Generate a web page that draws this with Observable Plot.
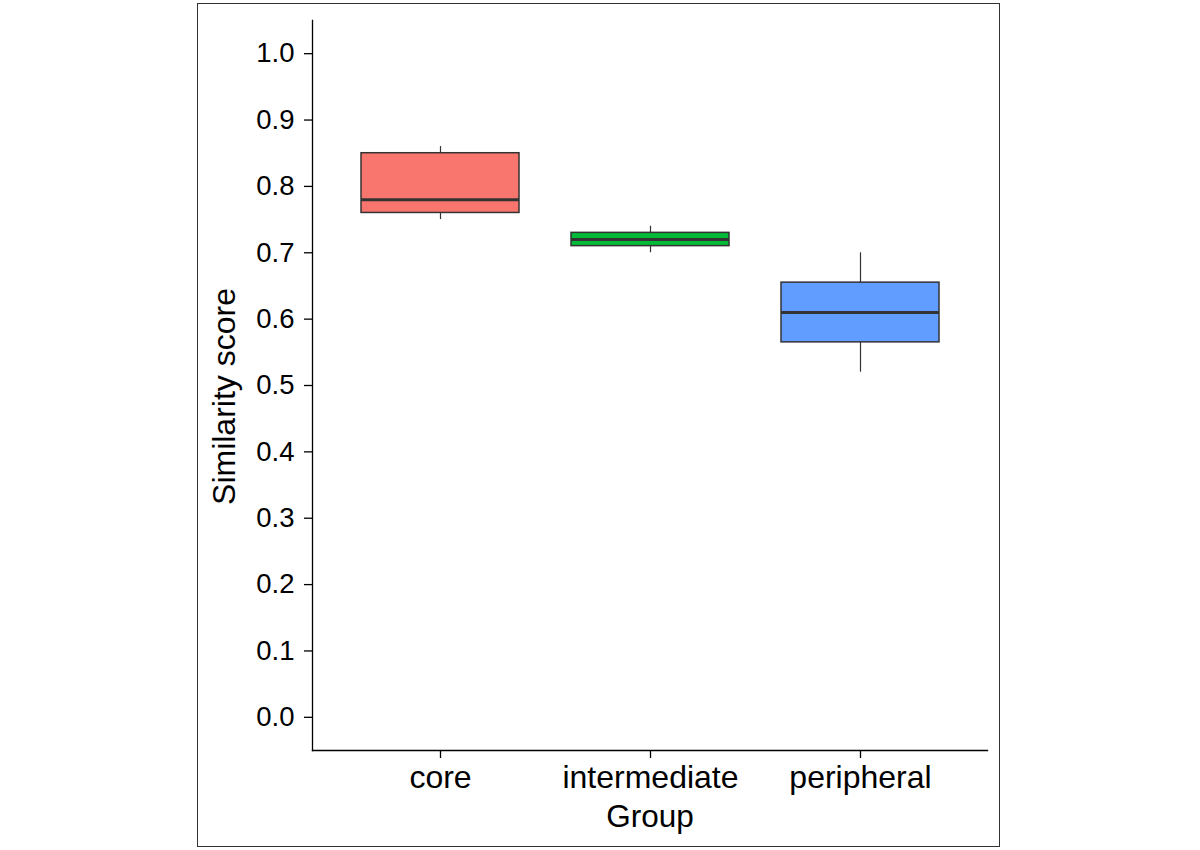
<!DOCTYPE html>
<html>
<head>
<meta charset="utf-8">
<script src="https://cdn.jsdelivr.net/npm/d3@7"></script>
<script src="https://cdn.jsdelivr.net/npm/@observablehq/plot@0.6"></script>
<style>
  html, body { margin: 0; padding: 0; background: #fff; }
  #wrap { position: relative; width: 1200px; height: 850px; font-family: "Liberation Sans", Arial, sans-serif; }
  #border { position: absolute; left: 197px; top: 3px; width: 803px; height: 844px; border: 1.5px solid #333; box-sizing: border-box; }
  #chart { position: absolute; left: 0; top: 0; }
</style>
</head>
<body>
<div id="wrap"><div id="border"></div><div id="chart"></div></div>
<script>
const groups = ["core", "intermediate", "peripheral"];
const colors = ["#F8766D", "#00BA38", "#619CFF"];
const lowerWhisker = [0.75, 0.70, 0.52];
const q1 = [0.76, 0.71, 0.565];
const median = [0.78, 0.72, 0.61];
const q3 = [0.85, 0.73, 0.655];
const upperWhisker = [0.86, 0.74, 0.70];
const yTicks = [0, 0.1, 0.2, 0.3, 0.4, 0.5, 0.6, 0.7, 0.8, 0.9, 1.0];
const xTitle = "Group";
const yTitle = "Similarity score";

const data = groups.map((g, i) => ({
  group: g, lo: lowerWhisker[i], q1: q1[i], med: median[i], q3: q3[i], hi: upperWhisker[i]
}));

const chart = Plot.plot({
  width: 1200,
  height: 850,
  marginLeft: 312,
  marginRight: 213,
  marginTop: 20,
  marginBottom: 100,
  style: { fontFamily: "Liberation Sans, Arial, sans-serif", color: "#000", background: "transparent" },
  x: { type: "band", domain: groups, paddingInner: 0.25, paddingOuter: 0.225, label: null },
  y: { domain: [-0.05, 1.05], label: null },
  color: { domain: groups, range: colors },
  marks: [
    Plot.frame({ anchor: "left", stroke: "#000", strokeWidth: 1.3 }),
    Plot.frame({ anchor: "bottom", stroke: "#000", strokeWidth: 1.3 }),
    Plot.ruleX(data, { x: "group", y1: "lo", y2: "hi", stroke: "#333", strokeWidth: 1.2 }),
    Plot.barY(data, { x: "group", y1: "q1", y2: "q3", fill: "group", stroke: "#333", strokeWidth: 1.5 }),
    Plot.tickY(data, { x: "group", y: "med", stroke: "#333", strokeWidth: 3 }),
    Plot.axisY({ ticks: yTicks, tickFormat: d3.format(".1f"), tickSize: 8, tickPadding: 10, fontSize: 27.5, stroke: "#000", strokeWidth: 1.3, label: null }),
    Plot.axisX({ tickSize: 8, tickPadding: 7, fontSize: 32, stroke: "#000", strokeWidth: 1.3, label: null }),
    Plot.text([xTitle], { frameAnchor: "bottom", dy: 76, fontSize: 31.5, lineAnchor: "bottom", fill: "#000" }),
    Plot.text([yTitle], { frameAnchor: "left", textAnchor: "middle", dx: -88, dy: 11, rotate: -90, fontSize: 32, fill: "#000" })
  ]
});
document.getElementById("chart").appendChild(chart);
</script>
</body>
</html>
